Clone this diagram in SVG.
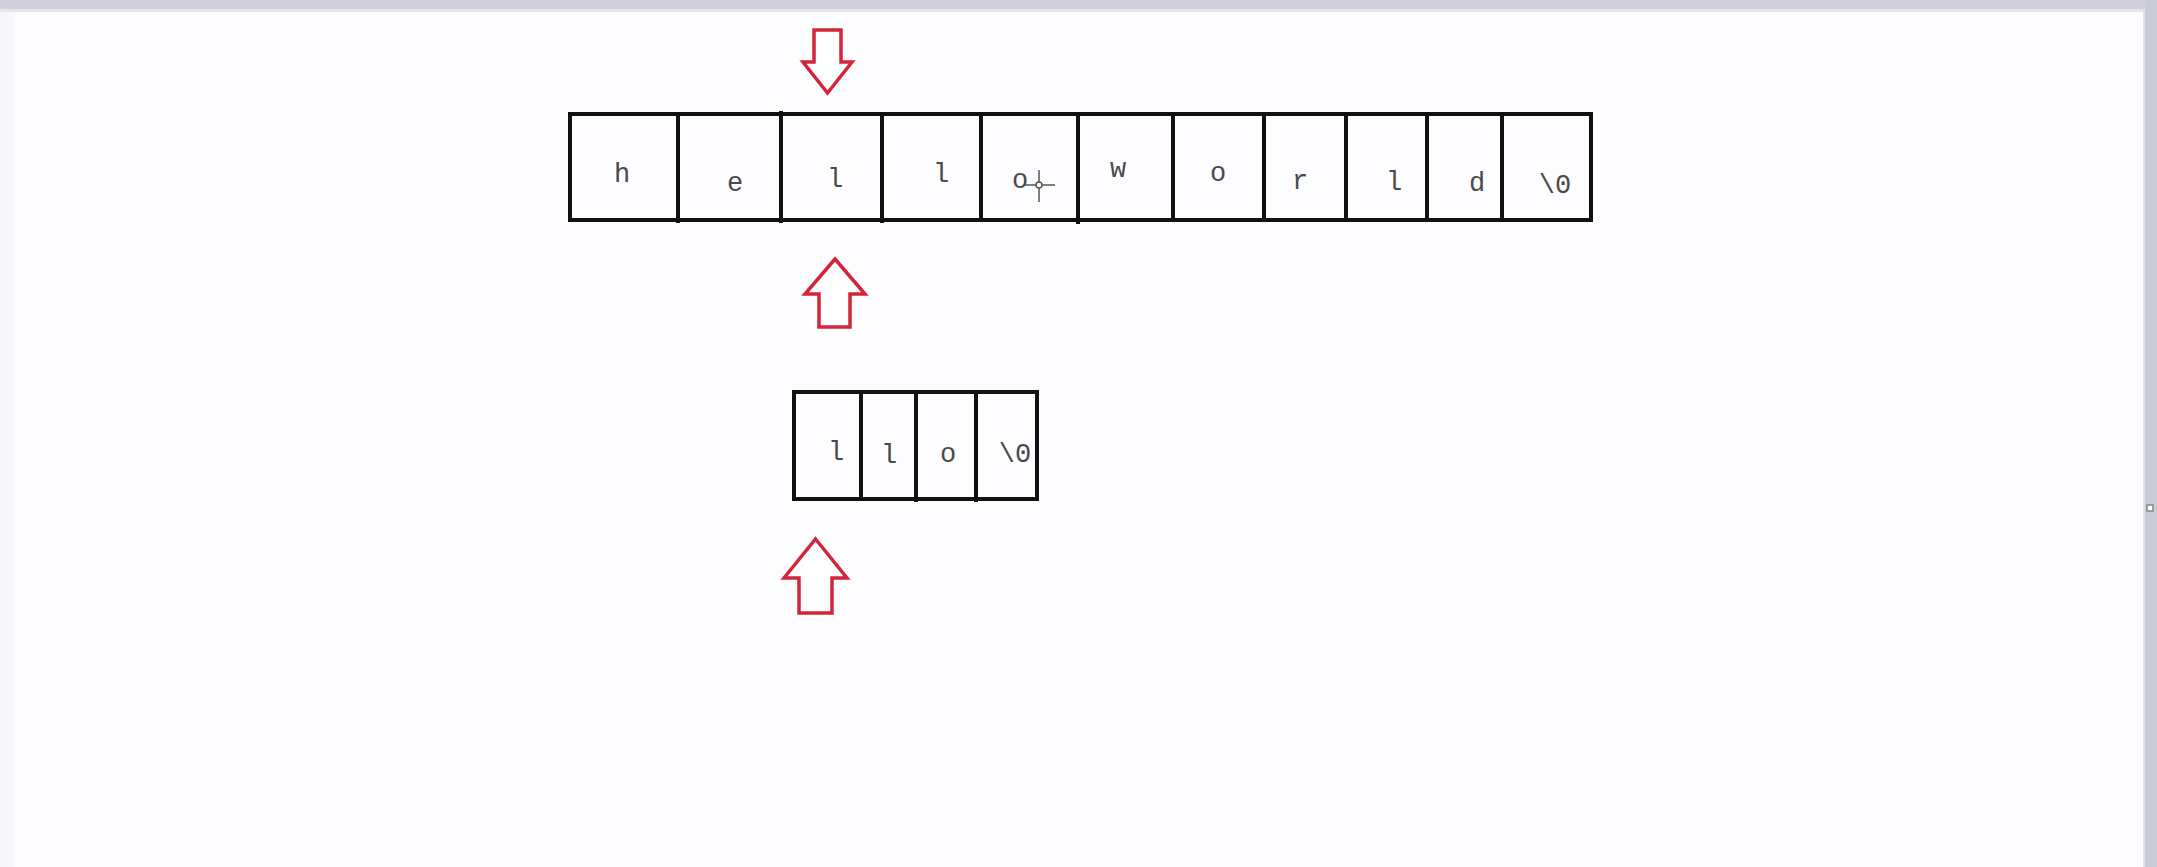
<svg xmlns="http://www.w3.org/2000/svg" width="2157" height="867" viewBox="0 0 2157 867">
<style>
.cell{fill:none;stroke:#111;stroke-width:4}
.div{stroke:#111;stroke-width:4}
.lbl{font-family:"Liberation Mono","DejaVu Sans Mono",monospace;font-size:27px;fill:#4a4a4a;text-anchor:middle}
.arr{fill:#fff;stroke:#d3243a;stroke-width:3.5;stroke-linejoin:miter}
</style>
<rect x="0" y="0" width="2157" height="867" fill="#fdfdff"/>
<rect x="0" y="10" width="15" height="857" fill="#f6f7fb"/>
<rect x="0" y="0" width="2157" height="9" fill="#cfd0da"/>
<rect x="0" y="9" width="2157" height="3" fill="#e6e7ee"/>
<rect x="2145" y="0" width="12" height="867" fill="#c9cbd7"/>
<rect x="2143" y="9" width="2" height="858" fill="#e2e3ea"/>
<rect x="2147" y="505" width="6" height="6" fill="#fff" stroke="#888" stroke-width="1.5"/>

<g id="top-array">
<rect class="cell" x="570" y="114" width="1021" height="106"/>
<g class="dividers">
<line class="div" x1="678" y1="114" x2="678" y2="223"/>
<line class="div" x1="781" y1="111" x2="781" y2="223"/>
<line class="div" x1="882" y1="114" x2="882" y2="223"/>
<line class="div" x1="981" y1="114" x2="981" y2="222"/>
<line class="div" x1="1078" y1="114" x2="1078" y2="224"/>
<line class="div" x1="1173" y1="114" x2="1173" y2="220"/>
<line class="div" x1="1264" y1="114" x2="1264" y2="220"/>
<line class="div" x1="1346" y1="114" x2="1346" y2="220"/>
<line class="div" x1="1427" y1="114" x2="1427" y2="220"/>
<line class="div" x1="1502" y1="114" x2="1502" y2="220"/>
</g>
<text class="lbl" x="622" y="182">h</text>
<text class="lbl" x="735" y="191">e</text>
<text class="lbl" x="835" y="187">l</text>
<text class="lbl" x="941" y="182">l</text>
<text class="lbl" x="1020" y="188">o</text>
<text class="lbl" x="1118" y="177">w</text>
<text class="lbl" x="1218" y="181">o</text>
<text class="lbl" x="1300" y="189">r</text>
<text class="lbl" x="1394" y="190">l</text>
<text class="lbl" x="1477" y="191">d</text>
<text class="lbl" x="1555" y="193">\0</text>
</g>

<g id="cursor" stroke="#555" stroke-width="1.5" fill="none">
<line x1="1039" y1="170" x2="1039" y2="202"/>
<line x1="1025" y1="185" x2="1055" y2="185"/>
<circle cx="1039" cy="185" r="3" fill="#fff"/>
</g>

<g id="sub-array">
<rect class="cell" x="794" y="392" width="243" height="107"/>
<line class="div" x1="861" y1="392" x2="861" y2="499"/>
<line class="div" x1="916" y1="392" x2="916" y2="502"/>
<line class="div" x1="976" y1="392" x2="976" y2="502"/>
<text class="lbl" x="836" y="460">l</text>
<text class="lbl" x="889" y="463">l</text>
<text class="lbl" x="948" y="462">o</text>
<text class="lbl" x="1015" y="462">\0</text>
</g>

<g id="connectors">
<path id="arrow-down-top" class="arr" d="M814,30 H841 V62 H852 L827.5,93 L803,62 H814 Z"/>
<path id="arrow-up-mid" class="arr" d="M819,327 V294 H805 L835,259 L865,294 H850 V327 Z"/>
<path id="arrow-up-bottom" class="arr" d="M799,613 V578 H784 L815.5,539 L847,578 H832 V613 Z"/>
</g>
</svg>
